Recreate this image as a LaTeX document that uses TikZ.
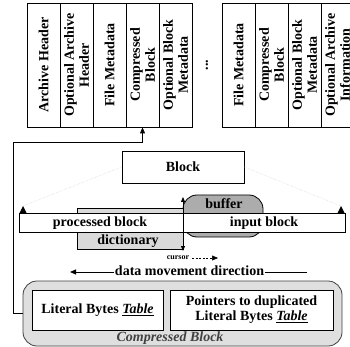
\documentclass[tikz,border=0pt]{standalone}
\usepackage{fontspec}
\setmainfont{Liberation Serif}
\usetikzlibrary{arrows.meta}
\begin{document}
\begin{tikzpicture}[x=1pt,y=-1pt,
  txt/.style={font=\fontsize{14}{15}\selectfont\bfseries, inner sep=0pt},
  colbox/.style={draw, line width=0.8pt, rotate=90, minimum width=124pt, minimum height=33pt, inner sep=0pt, align=center, font=\fontsize{14}{15}\selectfont\bfseries},
  box/.style={draw, line width=0.8pt, fill=white, inner sep=0pt},
  tip/.style={-{Triangle[length=6pt,width=5pt]}},
  lnk/.style={draw, line width=0.8pt},
  guide/.style={draw=gray!45, densely dotted, line width=0.4pt},
]
\useasboundingbox (0,0) rectangle (350,347);
\clip (0,0) rectangle (350,347);

% archive layout columns
\node[colbox] (c1) at (43.5,65) {Archive Header};
\node[colbox] (c2) at (76.5,65) {Optional Archive\\Header};
\node[colbox] (c3) at (109.5,65) {File Metadata};
\node[colbox] (c4) at (142.5,65) {Compressed\\Block};
\node[colbox] (c5) at (175.5,65) {Optional Block\\Metadata};
\node[txt, rotate=90] (dots) at (207,65) {...};
\node[colbox] (d1) at (238.5,65) {File Metadata};
\node[colbox] (d2) at (271.5,65) {Compressed\\Block};
\node[colbox] (d3) at (304.5,65) {Optional Block\\Metadata};
\node[colbox] (d4) at (337.5,65) {Optional Archive\\Information};

% block
\node[box, txt, minimum width=122pt, minimum height=32pt] (blk) at (183,167) {Block};

% buffer and dictionary (behind the bar)
\node[draw, line width=0.8pt, fill=gray!65, rounded corners=14pt, minimum width=80pt, minimum height=42pt, inner sep=0pt] (buf) at (223,216) {};
\node[draw, line width=0.8pt, fill=gray!30, minimum width=106pt, minimum height=41pt, inner sep=0pt] (dict) at (130,228.5) {};

% bar
\node[box, minimum width=326pt, minimum height=19pt] (bar) at (182,222.5) {};
\node[txt] (pb) at (100,223) {processed block};
\node[txt] (ib) at (264,223) {input block};
\node[txt] (bt) at (224,204) {buffer};
\node[txt] (dt) at (128,241) {dictionary};

% guides from block
\coordinate (tl) at (23,206);
\coordinate (tr) at (341,206);
\draw[guide] (blk.west) -- (tl);
\draw[guide] (blk.east) -- (tr);
\fill (tl) -- ++(-3.5,7) -- ++(7,0) -- cycle;
\fill (tr) -- ++(-3.5,7) -- ++(7,0) -- cycle;

% cursor
\coordinate (cu) at (183,197);
\coordinate (cd) at (183,251);
\draw[line width=0.8pt, {Triangle[length=5pt,width=4pt]}-{Triangle[length=5pt,width=4pt]}] (cu) -- (cd);
\node[font=\fontsize{8}{9}\selectfont\bfseries, inner sep=0pt] (cur) at (178,258) {cursor};
\coordinate (ca) at (218,258);
\draw[line width=0.5pt, dash pattern=on 2pt off 1.5pt, -{Triangle[length=6pt,width=5pt]}] ([xshift=3pt]cur.east) -- (ca);

% data movement direction
\coordinate (dmr) at (307,272);
\coordinate (dml) at (70,272);
\draw[line width=0.8pt, tip] (dmr) -- (dml);
\node[txt, fill=white, inner xsep=0.5pt, inner ysep=1pt] (dm) at (189.5,271) {data movement direction};

% compressed block
\node[draw=black!75, line width=0.8pt, fill=gray!25, rounded corners=14pt, minimum width=319pt, minimum height=65pt, inner sep=0pt] (cb) at (182.5,313.5) {};
\node[box, txt, minimum width=131pt, minimum height=40pt] (lit) at (97.5,310) {Literal Bytes \underline{\textit{Table}}};
\node[box, txt, minimum width=163pt, minimum height=40pt, align=center] (ptr) at (251.5,310) {Pointers to duplicated\\Literal Bytes \underline{\textit{Table}}};
\node[txt, text=black!75] (cbt) at (170,338) {\itshape Compressed Block};

% connector to archive column
\coordinate (k1) at (13,142);
\draw[line width=0.8pt, tip] (cb.west) -| (k1) -| (c4.west);
\end{tikzpicture}
\end{document}
